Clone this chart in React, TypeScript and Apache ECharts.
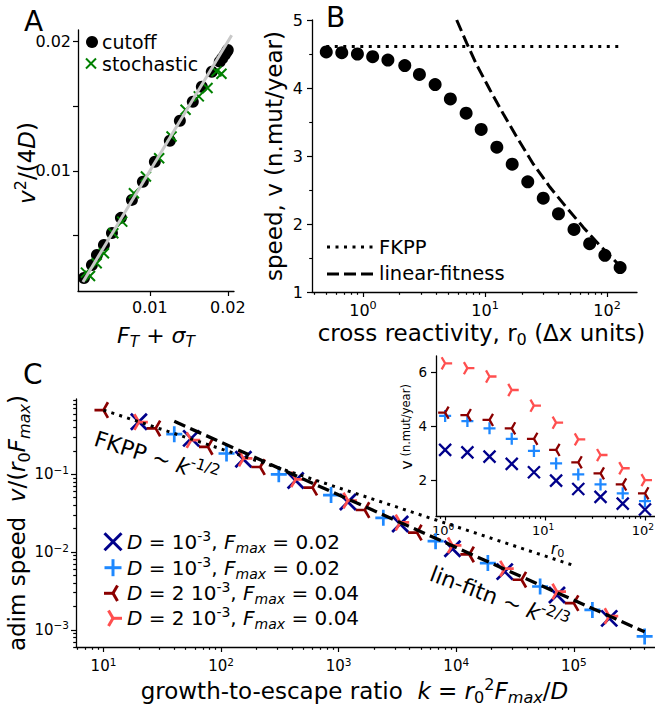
import React, { useEffect, useRef } from "react";
import * as echarts from "echarts";

const FONT = "DejaVu Sans";
const BLACK = "#000000";
const GREEN = "#008000";
const DBLUE = "#00008b";
const LBLUE = "#1e88ff";
const DRED = "#8b0000";
const LRED = "#ff4f4f";

// ---------- Panel A ----------
const cutoffX = [0.00154, 0.00256, 0.0032, 0.0041, 0.00513, 0.00628, 0.00769, 0.0091, 0.01064, 0.01256, 0.01385, 0.01551, 0.01667, 0.01795, 0.01897, 0.0193, 0.01962, 0.01987, 0.02];
const cutoffY = [0.00171, 0.00271, 0.00349, 0.00426, 0.00519, 0.00636, 0.00775, 0.00915, 0.0107, 0.01233, 0.01388, 0.01535, 0.01651, 0.01767, 0.01845, 0.01872, 0.01899, 0.01922, 0.01935];
const stochX = [0.00179, 0.00231, 0.00317, 0.0041, 0.0053, 0.00645, 0.00795, 0.00949, 0.01119, 0.01278, 0.01458, 0.01628, 0.0174, 0.01855, 0.01919];
const stochY = [0.00212, 0.00186, 0.00285, 0.00362, 0.00517, 0.00607, 0.00827, 0.00956, 0.01098, 0.01266, 0.01473, 0.01576, 0.01641, 0.0177, 0.01752];
const identity = [0.0014, 0.0205];
const aXTicks = [0.01, 0.02];
const aYTicks = [0.005, 0.01, 0.015, 0.02];
const aYLabels = [0.01, 0.02];

// ---------- Panel B ----------
const r0B = [0.5, 0.67, 0.9, 1.2, 1.6, 2.2, 2.9, 3.9, 5.2, 7.0, 9.3, 12.5, 16.7, 22.4, 30, 40, 53.6, 72, 96, 128];
const vB = [4.53, 4.52, 4.5, 4.46, 4.41, 4.33, 4.2, 4.05, 3.84, 3.63, 3.39, 3.13, 2.88, 2.62, 2.38, 2.15, 1.92, 1.71, 1.54, 1.36];
const fkppR0 = [0.5, 128];
const fkppV = [4.61, 4.61];
const linR0 = [5.86, 7.08, 8.55, 10.99, 14.1, 18.2, 24.9, 34.1, 46.7, 64, 87.7, 128];
const linV = [5.0, 4.66, 4.34, 3.97, 3.62, 3.28, 2.88, 2.54, 2.24, 1.95, 1.68, 1.38];
const bXTicks = [1, 10, 100];
const bXMinor = [0.4, 0.5, 0.6, 0.7, 0.8, 0.9, 2, 3, 4, 5, 6, 7, 8, 9, 20, 30, 40, 50, 60, 70, 80, 90];

// ---------- Panel C ----------
const kX = [20, 55.7, 154.9, 430.9, 1199, 3336, 9284, 25840, 71880, 200000];
const adimX = [0.473, 0.29, 0.156, 0.083, 0.044, 0.0229, 0.011, 0.0056, 0.0028, 0.0014];
const kPlus = [40, 111.3, 309.7, 861.8, 2398, 6672, 18570, 51680, 143800, 400000];
const adimPlus = [0.328, 0.185, 0.1, 0.054, 0.0275, 0.0138, 0.0072, 0.0036, 0.0018, 0.00082];
const kDR = [10, 27.8, 77.4, 215.4, 599.5, 1668, 4642, 12920, 35940, 100000];
const adimDR = [0.67, 0.389, 0.225, 0.124, 0.0673, 0.0347, 0.0178, 0.0093, 0.0044, 0.0022];
const kLR = [20, 55.7, 154.9, 430.9, 1199, 3336, 9284, 25840, 71880, 200000];
const adimLR = [0.47, 0.275, 0.16, 0.086, 0.046, 0.024, 0.0122, 0.0061, 0.0031, 0.0015];
const fkppK = [10, 100000];
const fkppAdim = [0.67, 0.0067];
const linK = [40, 400000];
const linAdim = [0.48, 0.00094];
const cXTicks = [10, 100, 1000, 10000, 100000];
const cYTicks = [0.001, 0.01, 0.1];
const cXMinor = [6, 7, 8, 9, 20, 30, 40, 50, 60, 70, 80, 90, 200, 300, 400, 500, 600, 700, 800, 900, 2000, 3000, 4000, 5000, 6000, 7000, 8000, 9000, 20000, 30000, 40000, 50000, 60000, 70000, 80000, 90000, 200000, 300000, 400000];
const cYMinor = [0.0006, 0.0007, 0.0008, 0.0009, 0.002, 0.003, 0.004, 0.005, 0.006, 0.007, 0.008, 0.009, 0.02, 0.03, 0.04, 0.05, 0.06, 0.07, 0.08, 0.09, 0.2, 0.3, 0.4, 0.5, 0.6, 0.7, 0.8, 0.9];

// ---------- Inset ----------
const r0In = [1, 1.67, 2.78, 4.64, 7.74, 12.9, 21.5, 35.9, 59.9, 100];
const vInX = [3.12, 3.03, 2.87, 2.6, 2.29, 1.98, 1.67, 1.38, 1.13, 0.91];
const vInPlus = [4.38, 4.19, 3.92, 3.53, 3.08, 2.62, 2.21, 1.84, 1.51, 1.22];
const vInDR = [4.5, 4.41, 4.23, 3.92, 3.53, 3.12, 2.66, 2.25, 1.84, 1.51];
const vInLR = [6.33, 6.15, 5.84, 5.34, 4.76, 4.13, 3.51, 2.93, 2.44, 2.0];
const inXTicks = [1, 10, 100];
const inXMinor = [0.9, 2, 3, 4, 5, 6, 7, 8, 9, 20, 30, 40, 50, 60, 70, 80, 90];
const inYTicks = [2, 4, 6];

const legendC = [
  { m: "x", c: DBLUE, D: "10", F: "0.02" },
  { m: "plus", c: LBLUE, D: "10", F: "0.02" },
  { m: "triL", c: DRED, D: "2 10", F: "0.04" },
  { m: "triR", c: LRED, D: "2 10", F: "0.04" },
];

const X_PATH = "path://M0,0L10,10M10,0L0,10";
const PLUS_PATH = "path://M5,0L5,10M0,5L10,5";
const TRIL_PATH = "path://M5,5L0,5M5,5L7.5,0.67M5,5L7.5,9.33M10,5L10,5M5,0L5,0M5,10L5,10";
const TRIR_PATH = "path://M5,5L10,5M5,5L2.5,0.67M5,5L2.5,9.33M0,5L0,5M5,0L5,0M5,10L5,10";

const zip = (xs: number[], ys: number[]) => xs.map((x, i) => [x, ys[i]]);

const mathRich = (fs: number) => ({
  r: { fontSize: fs, fontFamily: FONT, color: BLACK, fill: BLACK },
  i: { fontSize: fs, fontFamily: FONT, fontStyle: "italic", color: BLACK, fill: BLACK },
  sub: { fontSize: fs * 0.7, fontFamily: FONT, color: BLACK, fill: BLACK, padding: [fs * 0.6, 0, 0, 0] },
  subi: { fontSize: fs * 0.7, fontFamily: FONT, fontStyle: "italic", color: BLACK, fill: BLACK, padding: [fs * 0.6, 0, 0, 0] },
  sup: { fontSize: fs * 0.7, fontFamily: FONT, color: BLACK, fill: BLACK, padding: [0, 0, fs * 0.6, 0] },
});

const expLabel = (v: number) => {
  const e = Math.round(Math.log10(v));
  return `{b|10}{s|${e < 0 ? "−" + -e : e}}`;
};
const logLabel = (fs: number, margin: number, padR = 0) => ({
  show: true,
  formatter: expLabel,
  margin,
  rich: {
    b: { fontSize: fs, fontFamily: FONT, color: BLACK },
    s: { fontSize: fs * 0.7, fontFamily: FONT, color: BLACK, padding: [0, padR, fs * 0.6, 0] },
  },
});

const axLine = { show: true, onZero: false, lineStyle: { color: BLACK, width: 1.3 } };
const tick = (vals: number[], len = 5) => ({ show: true, customValues: vals, length: len, lineStyle: { color: BLACK, width: 1.2 } });
const common = { splitLine: { show: false }, minorSplitLine: { show: false }, nameMoveOverlap: false };
const minorAxis = (gridIndex: number, min: number, max: number, vals: number[], pos: string) => ({
  ...common,
  type: "log",
  gridIndex,
  min,
  max,
  position: pos,
  axisLine: { show: false, onZero: false },
  axisLabel: { show: false },
  axisTick: tick(vals, 2.8),
  silent: true,
});

const markerLines = (kind: string, cx: number, cy: number, r: number, color: string, lw: number) => {
  let segs: number[][];
  if (kind === "x") segs = [[-r, -r, r, r], [r, -r, -r, r]];
  else if (kind === "plus") segs = [[0, -r, 0, r], [-r, 0, r, 0]];
  else if (kind === "triL") segs = [[0, 0, -r, 0], [0, 0, r * 0.5, -r * 0.866], [0, 0, r * 0.5, r * 0.866]];
  else segs = [[0, 0, r, 0], [0, 0, -r * 0.5, -r * 0.866], [0, 0, -r * 0.5, r * 0.866]];
  return segs.map((s) => ({
    type: "line",
    silent: true,
    shape: { x1: cx + s[0], y1: cy + s[1], x2: cx + s[2], y2: cy + s[3] },
    style: { stroke: color, lineWidth: lw },
  }));
};

const gText = (x: number, y: number, text: string, fs: number, extra: any = {}, align = "left") => ({
  type: "text",
  x,
  y,
  silent: true,
  ...extra,
  style: {
    text,
    fontSize: fs,
    fontFamily: FONT,
    fill: BLACK,
    align,
    verticalAlign: "middle",
    rich: mathRich(fs),
  },
});

function buildOption(): any {
  const scatterC = (name: string, xs: number[], ys: number[], sym: string, size: number, color: string, lw: number, xi: number, yi: number, z: number) => ({
    type: "scatter",
    name,
    xAxisIndex: xi,
    yAxisIndex: yi,
    data: zip(xs, ys),
    symbol: sym,
    symbolSize: size,
    symbolKeepAspect: true,
    itemStyle: { color, borderColor: color, borderWidth: lw, opacity: 1 },
    emphasis: { disabled: true },
    silent: true,
    z,
  });

  const graphic: any[] = [
    gText(24, 21, "A", 28),
    gText(326, 17, "B", 28),
    gText(23, 374, "C", 28),
    // y-label of panel A, centred on the axis
    gText(27, 163, "{i|v}{sup|2}{r|/(4}{i|D}{r|)}", 23, { rotation: Math.PI / 2 }, "center"),
    // legend A
    { type: "circle", silent: true, shape: { cx: 92, cy: 42, r: 6 }, style: { fill: BLACK } },
    ...markerLines("x", 91, 63.5, 5, GREEN, 2),
    gText(102, 42, "cutoff", 19),
    gText(102, 64, "stochastic", 19),
    // legend B
    { type: "line", silent: true, shape: { x1: 327, y1: 247, x2: 375, y2: 247 }, style: { stroke: BLACK, lineWidth: 3, lineDash: [3, 5.5] } },
    { type: "line", silent: true, shape: { x1: 327, y1: 274, x2: 375, y2: 274 }, style: { stroke: BLACK, lineWidth: 3, lineDash: [12, 5] } },
    gText(379, 247, "FKPP", 19.5),
    gText(379, 273, "linear-fitness", 19.5),
    // annotations C
    gText(95, 438, "{r|FKPP ∼ }{i|k}{sup|-1/2}", 22, { rotation: -0.31 }),
    gText(431, 573, "{r|lin-fitn ∼ }{i|k}{sup|-2/3}", 22, { rotation: -0.36 }),
  ];
  const rows = [541.7, 567.7, 593.3, 618.3];
  legendC.forEach((l, idx) => {
    const r = l.m === "x" || l.m === "plus" ? 8.5 : 9;
    graphic.push(...markerLines(l.m, 113, rows[idx], r, l.c, 3));
    graphic.push(gText(127, rows[idx], `{i|D}{r| = ${l.D}}{sup|-3}{r|, }{i|F}{subi|max}{r| = ${l.F}}`, 20));
  });

  return {
    animation: false,
    backgroundColor: "#ffffff",
    textStyle: { fontFamily: FONT, color: BLACK },
    grid: [
      { left: 78, top: 30, width: 156, height: 261, outerBoundsMode: "none", containLabel: false },
      { left: 312, top: 20, width: 325, height: 272, outerBoundsMode: "none", containLabel: false },
      { left: 76, top: 399, width: 579, height: 248, outerBoundsMode: "none", containLabel: false },
      { left: 436, top: 356, width: 219, height: 160, outerBoundsMode: "none", containLabel: false, show: true, backgroundColor: "#ffffff", borderWidth: 0 },
    ],
    xAxis: [
      {
        ...common,
        type: "value",
        gridIndex: 0,
        min: 0.00077,
        max: 0.0208,
        position: "bottom",
        axisLine: axLine,
        axisTick: tick(aXTicks),
        axisLabel: { show: true, customValues: aXTicks, formatter: (v: number) => v.toFixed(2), fontSize: 16, fontFamily: FONT, color: BLACK, margin: 8 },
        name: "{i|F}{subi|T}{r| + }{i|σ}{subi|T}",
        nameLocation: "middle",
        nameGap: 30,
        nameTextStyle: { rich: mathRich(22) },
      },
      {
        ...common,
        type: "log",
        gridIndex: 1,
        min: 0.382,
        max: 176,
        position: "bottom",
        axisLine: axLine,
        axisTick: tick(bXTicks),
        axisLabel: { ...logLabel(16, 8), customValues: bXTicks },
        name: "{r|cross reactivity, }{r|r}{sub|0}{r| (Δx units)}",
        nameLocation: "middle",
        nameGap: 26,
        nameTextStyle: { rich: mathRich(23), padding: [0, 0, 0, 14] },
      },
      minorAxis(1, 0.382, 176, bXMinor, "bottom"),
      {
        ...common,
        type: "log",
        gridIndex: 2,
        min: 5.84,
        max: 490000,
        position: "bottom",
        axisLine: axLine,
        axisTick: tick(cXTicks),
        axisLabel: { ...logLabel(15, 9), customValues: cXTicks },
        name: "{r|growth-to-escape ratio  }{i|k}{r| = }{i|r}{sub|0}{sup|2}{i|F}{subi|max}{r|/}{i|D}",
        nameLocation: "middle",
        nameGap: 29,
        nameTextStyle: { rich: mathRich(23), padding: [0, 22, 0, 0] },
      },
      minorAxis(2, 5.84, 490000, cXMinor, "bottom"),
      {
        ...common,
        type: "log",
        gridIndex: 3,
        min: 0.81,
        max: 126,
        position: "bottom",
        axisLine: axLine,
        axisTick: tick(inXTicks, 4.5),
        axisLabel: { ...logLabel(13, 6, 4), customValues: inXTicks },
        name: "{i|r}{sub|0}",
        nameLocation: "middle",
        nameGap: 22,
        nameTextStyle: { rich: mathRich(16), padding: [0, 0, 0, 24] },
      },
      minorAxis(3, 0.81, 126, inXMinor, "bottom"),
    ],
    yAxis: [
      {
        ...common,
        type: "value",
        gridIndex: 0,
        min: 0.0007,
        max: 0.0209,
        position: "left",
        axisLine: axLine,
        axisTick: tick(aYTicks),
        axisLabel: { show: true, customValues: aYLabels, formatter: (v: number) => v.toFixed(2), fontSize: 16, fontFamily: FONT, color: BLACK, margin: 7 },
      },
      {
        ...common,
        type: "value",
        gridIndex: 1,
        min: 1,
        max: 5,
        interval: 1,
        position: "left",
        axisLine: axLine,
        axisTick: { show: true, length: 5, lineStyle: { color: BLACK, width: 1.2 } },
        minorTick: { show: true, splitNumber: 2, length: 2.8, lineStyle: { color: BLACK, width: 1.1 } },
        axisLabel: { show: true, fontSize: 16, fontFamily: FONT, color: BLACK, margin: 9 },
        name: "speed, v (n.mut/year)",
        nameLocation: "middle",
        nameRotate: 90,
        nameGap: 27,
        nameTextStyle: { fontSize: 23, fontFamily: FONT, color: BLACK },
      },
      {
        ...common,
        type: "log",
        gridIndex: 2,
        min: 0.0006,
        max: 0.93,
        position: "left",
        axisLine: axLine,
        axisTick: tick(cYTicks),
        axisLabel: { ...logLabel(15, 7), customValues: cYTicks },
        name: "{r|adim speed  }{i|v}{r|/(}{i|r}{sub|0}{i|F}{subi|max}{r|)}",
        nameLocation: "middle",
        nameRotate: 90,
        nameGap: 44,
        nameTextStyle: { rich: mathRich(23) },
      },
      minorAxis(2, 0.0006, 0.93, cYMinor, "left"),
      {
        ...common,
        type: "value",
        gridIndex: 3,
        min: 0.67,
        max: 6.6,
        position: "left",
        axisLine: axLine,
        axisTick: tick(inYTicks, 5),
        axisLabel: { show: true, customValues: inYTicks, fontSize: 13.5, fontFamily: FONT, color: BLACK, margin: 9 },
        name: "{v|v} {s|(n.mut/year)}",
        nameLocation: "middle",
        nameRotate: 90,
        nameGap: 22,
        nameTextStyle: {
          rich: {
            v: { fontSize: 16, fontFamily: FONT, color: BLACK },
            s: { fontSize: 11.5, fontFamily: FONT, color: BLACK },
          },
          padding: [0, 0, 0, 18],
        },
      },
    ],
    series: [
      // Panel A
      { type: "scatter", name: "cutoff", xAxisIndex: 0, yAxisIndex: 0, data: zip(cutoffX, cutoffY), symbol: "circle", symbolSize: 12, itemStyle: { color: BLACK, opacity: 1 }, silent: true, z: 2 },
      scatterC("stochastic", stochX, stochY, X_PATH, 10, GREEN, 2, 0, 0, 3),
      { type: "line", xAxisIndex: 0, yAxisIndex: 0, data: zip(identity, identity), symbol: "none", lineStyle: { color: "#c8c8c8", width: 3 }, silent: true, z: 4 },
      // Panel B
      { type: "scatter", name: "simulation", xAxisIndex: 1, yAxisIndex: 1, data: zip(r0B, vB), symbol: "circle", symbolSize: 13, itemStyle: { color: BLACK, opacity: 1 }, silent: true, z: 2 },
      { type: "line", name: "FKPP", xAxisIndex: 1, yAxisIndex: 1, data: zip(fkppR0, fkppV), symbol: "none", lineStyle: { color: BLACK, width: 3, type: [3, 5.5], cap: "butt" }, silent: true, z: 3 },
      { type: "line", name: "linear-fitness", xAxisIndex: 1, yAxisIndex: 1, data: zip(linR0, linV), symbol: "none", smooth: false, lineStyle: { color: BLACK, width: 3, type: [12, 5], cap: "butt" }, silent: true, z: 3 },
      // Panel C
      scatterC("C1", kX, adimX, X_PATH, 16, DBLUE, 2.7, 3, 2, 2),
      scatterC("C2", kPlus, adimPlus, PLUS_PATH, 16, LBLUE, 2.7, 3, 2, 2),
      scatterC("C3", kDR, adimDR, TRIL_PATH, 18, DRED, 2.7, 3, 2, 2),
      scatterC("C4", kLR, adimLR, TRIR_PATH, 18, LRED, 2.7, 3, 2, 2),
      { type: "line", xAxisIndex: 3, yAxisIndex: 2, data: zip(fkppK, fkppAdim), symbol: "none", lineStyle: { color: BLACK, width: 3, type: [3, 5.3], cap: "butt" }, silent: true, z: 4 },
      { type: "line", xAxisIndex: 3, yAxisIndex: 2, data: zip(linK, linAdim), symbol: "none", lineStyle: { color: BLACK, width: 3.3, type: [12, 5.5], cap: "butt" }, silent: true, z: 4 },
      // Inset
      scatterC("I1", r0In, vInX, X_PATH, 12, DBLUE, 2.3, 5, 4, 5),
      scatterC("I2", r0In, vInPlus, PLUS_PATH, 12, LBLUE, 2.3, 5, 4, 5),
      scatterC("I3", r0In, vInDR, TRIL_PATH, 14, DRED, 2.3, 5, 4, 5),
      scatterC("I4", r0In, vInLR, TRIR_PATH, 14, LRED, 2.3, 5, 4, 5),
    ],
    graphic,
  };
}

export default function App() {
  const ref = useRef<HTMLDivElement>(null);
  useEffect(() => {
    if (!ref.current) return;
    const chart = echarts.init(ref.current, null, { renderer: "svg" });
    chart.setOption(buildOption());
    return () => chart.dispose();
  }, []);
  return <div ref={ref} style={{ position: "fixed", left: 0, top: 0, width: 655, height: 706, background: "#fff" }} />;
}
